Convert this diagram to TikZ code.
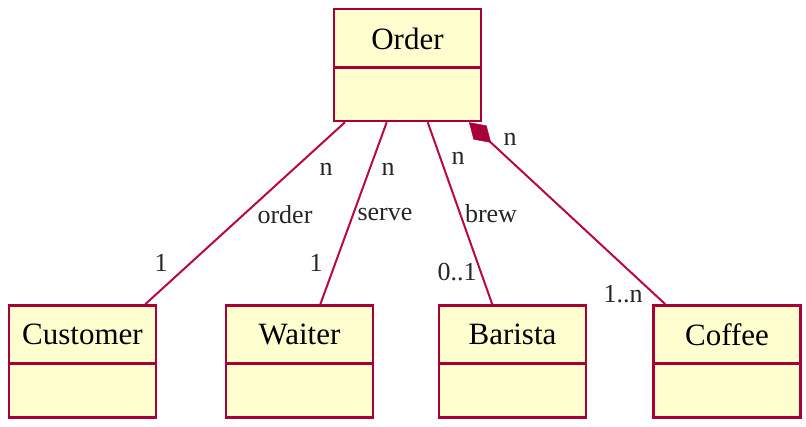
\documentclass[tikz,border=0pt]{standalone}
\usepackage{fontspec}
\setmainfont{Liberation Serif}
\usetikzlibrary{arrows.meta}
\definecolor{umlborder}{HTML}{A80036}
\definecolor{umlline}{HTML}{B80A42}
\definecolor{umlfill}{HTML}{FEFECE}
\tikzset{
  classbox/.style={draw=umlborder, fill=umlfill, line width=2.6pt, minimum width=147pt, minimum height=112pt, inner sep=0pt},
  classname/.style={font=\fontsize{31}{36}\selectfont, inner sep=0pt},
  divider/.style={draw=umlborder, line width=2.6pt},
  assoc/.style={draw=umlline, line width=2pt},
  lbl/.style={font=\fontsize{26}{30}\selectfont, inner sep=0pt, text=black!85}
}
\begin{document}
\begin{tikzpicture}[x=1pt,y=1pt]
\useasboundingbox (0,0) rectangle (806,426);
% classes
\node[classbox] (order) at (407.5,361) {};
\draw[divider] ([yshift=-60pt]order.north west) -- ([yshift=-60pt]order.north east);
\node[classname] (ordername) at (407.5,387) {Order};

\node[classbox] (customer) at (82.5,64.5) {};
\draw[divider] ([yshift=-59pt]customer.north west) -- ([yshift=-59pt]customer.north east);
\node[classname] (customername) at (82.5,91.5) {Customer};

\node[classbox] (waiter) at (299.5,64.5) {};
\draw[divider] ([yshift=-59pt]waiter.north west) -- ([yshift=-59pt]waiter.north east);
\node[classname] (waitername) at (299.5,91.5) {Waiter};

\node[classbox] (barista) at (512.5,64.5) {};
\draw[divider] ([yshift=-59pt]barista.north west) -- ([yshift=-59pt]barista.north east);
\node[classname] (baristaname) at (512.5,91.5) {Barista};

\node[classbox] (coffee) at (727,64.5) {};
\draw[divider] ([yshift=-59pt]coffee.north west) -- ([yshift=-59pt]coffee.north east);
\node[classname] (coffeename) at (727,91.5) {Coffee};

% connectors
\draw[assoc] (order) -- (customer);
\draw[assoc] (order) -- (waiter);
\draw[assoc] (order) -- (barista);
\draw[assoc, {Diamond[length=30pt,width=19pt,fill=umlborder,color=umlborder,line width=0.5pt]}-] (order) -- (coffee);

% labels
\node[lbl] (l1n) at (326,257) {n};
\node[lbl] (l1) at (285,211) {order};
\node[lbl] (l1one) at (161,163) {1};
\node[lbl] (l2n) at (388,257) {n};
\node[lbl] (l2) at (385,211) {serve};
\node[lbl] (l2one) at (316,163) {1};
\node[lbl] (l3n) at (458,268) {n};
\node[lbl] (l3) at (491,212) {brew};
\node[lbl] (l3m) at (457,154) {0..1};
\node[lbl] (l4n) at (510,287) {n};
\node[lbl] (l4m) at (623,132) {1..n};
\end{tikzpicture}
\end{document}
